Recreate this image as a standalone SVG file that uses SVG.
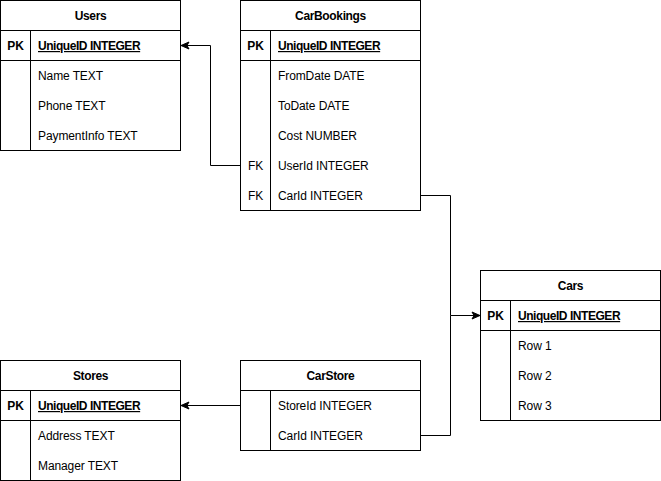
<svg xmlns="http://www.w3.org/2000/svg" width="661" height="481" viewBox="0 0 661 481">
  <style>
    .box { fill: #ffffff; stroke: #000000; stroke-width: 1; }
    .ln { fill: none; stroke: #000000; stroke-width: 1; }
    .t { font-family: "Liberation Sans", Arial, sans-serif; font-size: 12px; fill: #000000; letter-spacing: -0.1px; }
    .h { font-weight: bold; text-anchor: middle; letter-spacing: -0.35px; }
    .k { text-anchor: middle; }
    .pk { font-weight: bold; text-anchor: middle; }
    .pf { font-weight: bold; text-decoration: underline; letter-spacing: -0.45px; }
    .edge { fill: none; stroke: #000000; stroke-width: 1; }
  </style>
  <defs>
    <marker id="arrow" viewBox="0 0 10 10" refX="9" refY="5" markerWidth="10" markerHeight="10" markerUnits="userSpaceOnUse" orient="auto">
      <path d="M1,1.5 L9,5 L1,8.5 L3,5 Z" fill="#000000" stroke="#000000" stroke-width="1" stroke-linejoin="miter"/>
    </marker>
  </defs>
  <rect width="661" height="481" fill="#ffffff"/>

  <!-- Users table -->
  <g id="users">
    <rect class="box" x="0.5" y="0.5" width="180" height="150"/>
    <path class="ln" d="M0.5,30.5 H180.5 M0.5,60.5 H180.5 M30.5,30.5 V150.5"/>
    <text class="t h" x="90.5" y="20">Users</text>
    <text class="t pk" x="15.5" y="50">PK</text>
    <text class="t pf" x="38" y="50">UniqueID INTEGER</text>
    <text class="t" x="38" y="80">Name TEXT</text>
    <text class="t" x="38" y="110">Phone TEXT</text>
    <text class="t" x="38" y="140">PaymentInfo TEXT</text>
  </g>

  <!-- CarBookings table -->
  <g id="carbookings">
    <rect class="box" x="240.5" y="0.5" width="180" height="210"/>
    <path class="ln" d="M240.5,30.5 H420.5 M240.5,60.5 H420.5 M270.5,30.5 V210.5"/>
    <text class="t h" x="330.5" y="20">CarBookings</text>
    <text class="t pk" x="255.5" y="50">PK</text>
    <text class="t pf" x="278" y="50">UniqueID INTEGER</text>
    <text class="t" x="278" y="80">FromDate DATE</text>
    <text class="t" x="278" y="110">ToDate DATE</text>
    <text class="t" x="278" y="140">Cost NUMBER</text>
    <text class="t k" x="255.5" y="170">FK</text>
    <text class="t" x="278" y="170">UserId INTEGER</text>
    <text class="t k" x="255.5" y="200">FK</text>
    <text class="t" x="278" y="200">CarId INTEGER</text>
  </g>

  <!-- Cars table -->
  <g id="cars">
    <rect class="box" x="480.5" y="270.5" width="180" height="150"/>
    <path class="ln" d="M480.5,300.5 H660.5 M480.5,330.5 H660.5 M510.5,300.5 V420.5"/>
    <text class="t h" x="570.5" y="290">Cars</text>
    <text class="t pk" x="495.5" y="320">PK</text>
    <text class="t pf" x="518" y="320">UniqueID INTEGER</text>
    <text class="t" x="518" y="350">Row 1</text>
    <text class="t" x="518" y="380">Row 2</text>
    <text class="t" x="518" y="410">Row 3</text>
  </g>

  <!-- Stores table -->
  <g id="stores">
    <rect class="box" x="0.5" y="360.5" width="180" height="120"/>
    <path class="ln" d="M0.5,390.5 H180.5 M0.5,420.5 H180.5 M30.5,390.5 V480.5"/>
    <text class="t h" x="90.5" y="380">Stores</text>
    <text class="t pk" x="15.5" y="410">PK</text>
    <text class="t pf" x="38" y="410">UniqueID INTEGER</text>
    <text class="t" x="38" y="440">Address TEXT</text>
    <text class="t" x="38" y="470">Manager TEXT</text>
  </g>

  <!-- CarStore table -->
  <g id="carstore">
    <rect class="box" x="240.5" y="360.5" width="180" height="90"/>
    <path class="ln" d="M240.5,390.5 H420.5 M270.5,390.5 V450.5"/>
    <text class="t h" x="330.5" y="380">CarStore</text>
    <text class="t" x="278" y="410">StoreId INTEGER</text>
    <text class="t" x="278" y="440">CarId INTEGER</text>
  </g>

  <!-- Relationships -->
  <g id="connectors">
    <path class="edge" d="M240.5,165.5 H210.5 V45.5 H181" marker-end="url(#arrow)"/>
    <path class="edge" d="M420.5,195.5 H450.5 V315.5 H480" marker-end="url(#arrow)"/>
    <path class="edge" d="M420.5,435.5 H450.5 V315.5"/>
    <path class="edge" d="M240.5,405.5 H181" marker-end="url(#arrow)"/>
  </g>
</svg>
